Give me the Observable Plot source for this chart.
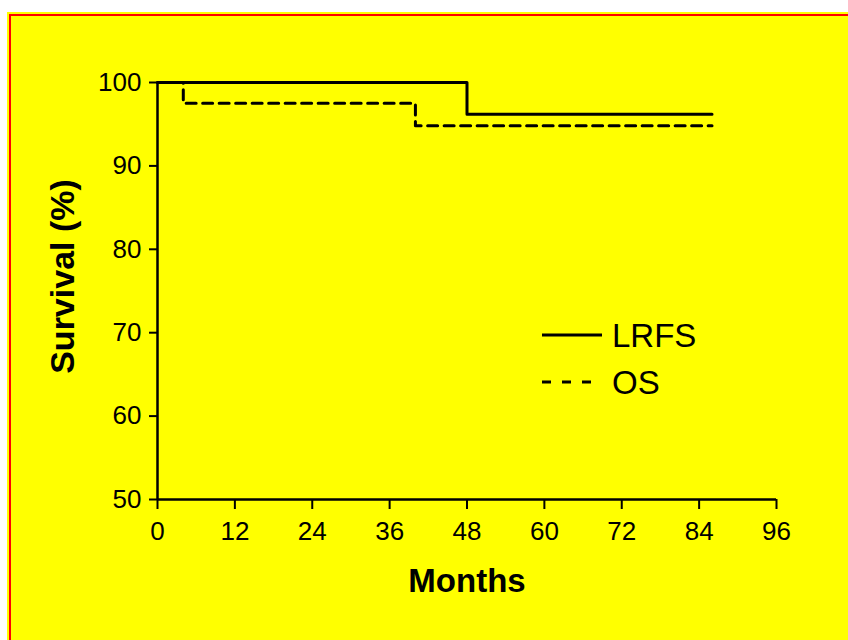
<!DOCTYPE html>
<html><head><meta charset="utf-8">
<script src="https://cdn.jsdelivr.net/npm/d3@7"></script>
<script src="https://cdn.jsdelivr.net/npm/@observablehq/plot@0.6"></script>
<style>
html,body{margin:0;padding:0;background:#fff;width:848px;height:640px;overflow:hidden;}
#frame{position:absolute;left:7px;top:12px;width:900px;height:700px;background:#ffff00;}
#border{position:absolute;left:9px;top:14px;width:900px;height:700px;border-left:2px solid #ff0000;border-top:2px solid #ff0000;}
#chart{position:absolute;left:0;top:0;}
</style></head><body>
<div id="frame"></div><div id="border"></div><div id="chart"></div>
<script>
const xTicks = [0, 12, 24, 36, 48, 60, 72, 84, 96];
const yTicks = [50, 60, 70, 80, 90, 100];
const seriesNames = ["LRFS", "OS"];
const lrfsMonths = [0, 48, 86];
const lrfsSurvival = [100, 96.2, 96.2];
const osMonths = [0, 4, 40, 86];
const osSurvival = [100, 97.5, 94.8, 94.8];
const xLabel = "Months";
const yLabel = "Survival (%)";

const font = "'Liberation Sans', Arial, Helvetica, sans-serif";
const lrfs = lrfsMonths.map((m, i) => ({month: m, surv: lrfsSurvival[i]}));
const os = osMonths.map((m, i) => ({month: m, surv: osSurvival[i]}));
const dashes = ["none", "10,6.5"];

const chart = Plot.plot({
  width: 848, height: 640,
  marginLeft: 157, marginRight: 72, marginTop: 82, marginBottom: 141,
  style: {background: "transparent", fontFamily: font, color: "#000", overflow: "visible"},
  x: {domain: [xTicks[0], xTicks[xTicks.length - 1]]},
  y: {domain: [yTicks[0], yTicks[yTicks.length - 1]]},
  marks: [
    Plot.axisX({ticks: xTicks, tickSize: 10, tickPadding: 12, fontSize: 26, strokeWidth: 2, label: null}),
    Plot.axisY({ticks: yTicks, tickSize: 8, tickPadding: 8, fontSize: 26, strokeWidth: 2, label: null}),
    Plot.ruleX([xTicks[0]], {y1: yTicks[0], y2: yTicks[yTicks.length - 1], strokeWidth: 2.5, stroke: "#000"}),
    Plot.ruleY([yTicks[0]], {x1: xTicks[0], x2: xTicks[xTicks.length - 1], strokeWidth: 2.5, stroke: "#000"}),
    Plot.line(lrfs, {x: "month", y: "surv", curve: "step-after", stroke: "#000", strokeWidth: 3}),
    Plot.line(os, {x: "month", y: "surv", curve: "step-after", stroke: "#000", strokeWidth: 3, strokeDasharray: dashes[1]}),
    Plot.text([yLabel], {text: d => d, frameAnchor: "left", rotate: -90, dx: -94, dy: -14.5, textAnchor: "middle", lineAnchor: "middle", fontSize: 34, fontWeight: "bold", fill: "#000"}),
    Plot.text([xLabel], {text: d => d, frameAnchor: "bottom", dy: 82, textAnchor: "middle", lineAnchor: "middle", fontSize: 33, fontWeight: "bold", fill: "#000"})
  ]
});
document.getElementById("chart").appendChild(chart);

// legend
const svg = d3.select(chart);
const lg = svg.append("g").attr("font-family", font).attr("font-size", 33).attr("text-anchor", "start");
seriesNames.forEach((name, i) => {
  const y = 335 + i * 47;
  lg.append("line").attr("x1", 542).attr("x2", 602).attr("y1", y).attr("y2", y)
    .attr("stroke", "#000").attr("stroke-width", 3)
    .attr("stroke-dasharray", i === 0 ? null : "9,11");
  lg.append("text").attr("x", 612).attr("y", y).attr("dy", "0.35em").attr("fill", "#000")
    .attr("text-anchor", "start").text(name);
});
</script>
</body></html>
